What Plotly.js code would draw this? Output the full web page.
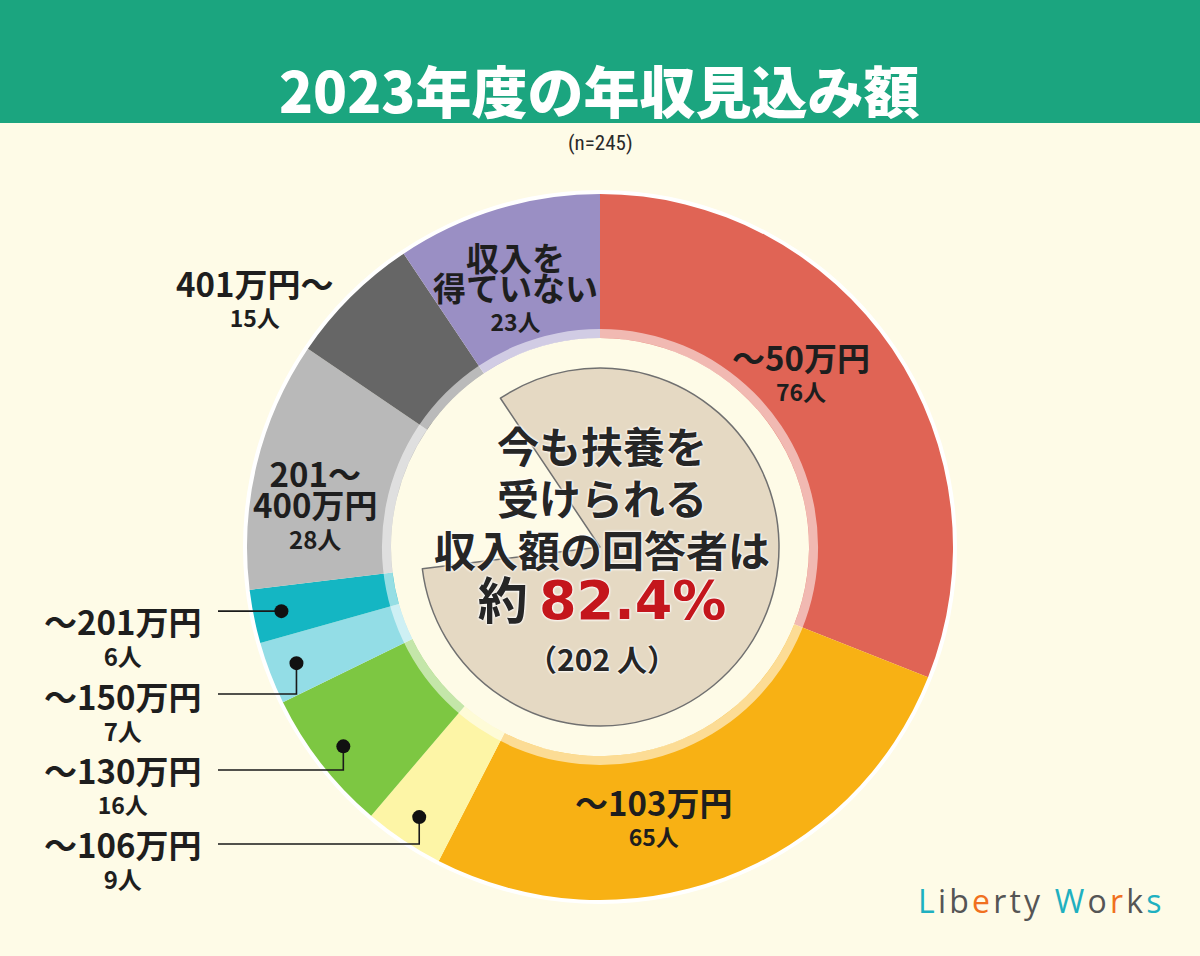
<!DOCTYPE html>
<html><head><meta charset="utf-8">
<script src="https://cdn.plot.ly/plotly-3.0.1.min.js"></script>
<style>html,body{margin:0;padding:0;background:#fefbe7;}#chart{width:1200px;height:956px;}</style>
</head><body><div id="chart"></div>
<script>
// ---------------- DATA ----------------
const titleText = '2023年度の年収見込み額';
const sampleText = '(n=245)';
const categories = ['〜50万円','〜103万円','〜106万円','〜130万円','〜150万円','〜201万円','201〜400万円','401万円〜','収入を得ていない'];
const labelLines = [['〜50万円'],['〜103万円'],['〜106万円'],['〜130万円'],['〜150万円'],['〜201万円'],['201〜','400万円'],['401万円〜'],['収入を','得ていない']];
const counts = [76, 65, 9, 16, 7, 6, 28, 15, 23];
const dependentFlags = [1, 1, 1, 1, 1, 1, 0, 0, 1];
const dependentShareText = '82.4%';
const centerLines = ['今も扶養を', '受けられる', '収入額の回答者は'];
const unit = '人';

// ---------------- STYLE / LAYOUT ----------------
const W = 1200, H = 956, CX = 600, CY = 547;
const R_RIM = 357, R_OUT = 353, R_BAND = 218, R_IN = 209, R_CORE = 179;
const sliceColors = ['#e06455','#f8b114','#fdf5a6','#7dc742','#93dde6','#14b6c3','#b9b9b9','#666666','#9a8fc4'];
const BG = '#fefbe7', GREEN = '#1ba57f', BEIGE = '#e5d9c3', TXT = '#1e1e1e', RED = '#c4161c';
const JP = '"Noto Sans CJK JP", "Noto Sans", sans-serif';
const labelX = [801, 653, 122, 122, 122, 122, 315, 254, 515];
const labelTopY = [356, 801, 842, 769, 694, 619, 471, 282, 256];
const labelBaseSize = [23, 23, 24, 23, 24, 24, 24, 23, 23];
const labelBigSize = 33;
const leaderIdx = [2, 3, 4, 5];
const leaderY = {2: 844, 3: 770, 4: 694, 5: null};
const leaderX0 = 218, dotRadius = 325, dotSize = 7;

const total = counts.reduce((a, b) => a + b, 0);
const depCount = counts.reduce((a, v, i) => a + (dependentFlags[i] ? v : 0), 0);
let startIdx = dependentFlags.findIndex((f, i) => f && !dependentFlags[(i - 1 + counts.length) % counts.length]);
const cumBefore = counts.slice(0, startIdx).reduce((a, b) => a + b, 0);
let coreRotation = cumBefore / total * 360; if (coreRotation > 180) coreRotation -= 360;

function dom(r) { return {x: [(CX - r) / W, (CX + r) / W], y: [1 - (CY + r) / H, 1 - (CY - r) / H]}; }
const px = x => x / W, py = y => 1 - y / H;

const common = {type: 'pie', sort: false, direction: 'clockwise', textinfo: 'none', hoverinfo: 'skip', showlegend: false};
const traces = [
  Object.assign({}, common, {values: [1], marker: {colors: ['#ffffff'], line: {width: 0}}, hole: (R_OUT - 1) / R_RIM, domain: dom(R_RIM)}),
  Object.assign({}, common, {values: counts, labels: categories, rotation: 0, marker: {colors: sliceColors, line: {width: 0}}, hole: R_IN / R_OUT, domain: dom(R_OUT)}),
  Object.assign({}, common, {values: [1], marker: {colors: ['rgba(255,255,255,0.55)'], line: {width: 0}}, hole: R_IN / R_BAND, domain: dom(R_BAND)}),
  Object.assign({}, common, {values: [depCount, total - depCount], labels: ['a','b'], rotation: coreRotation,
    marker: {colors: [BEIGE, 'rgba(0,0,0,0)'], line: {color: ['#707070', 'rgba(0,0,0,0)'], width: 1.5}}, domain: dom(R_CORE)})
];

const shapes = [{type: 'rect', xref: 'paper', yref: 'paper', x0: 0, x1: 1, y0: py(123), y1: 1, fillcolor: GREEN, line: {width: 0}, layer: 'below'}];
const cum = []; counts.reduce((a, v, i) => { cum[i] = a; return a + v; }, 0);
leaderIdx.forEach(i => {
  const a = (cum[i] + counts[i] / 2) / total * 2 * Math.PI;
  const dx = CX + dotRadius * Math.sin(a), dy = CY - dotRadius * Math.cos(a);
  const ly = leaderY[i] == null ? dy : leaderY[i];
  shapes.push({type: 'path', xref: 'paper', yref: 'paper', layer: 'above',
    path: `M ${px(leaderX0)},${py(ly)} L ${px(dx)},${py(ly)} L ${px(dx)},${py(dy)}`, line: {color: '#1a1a1a', width: 1.6}});
  shapes.push({type: 'circle', xref: 'paper', yref: 'paper', layer: 'above',
    x0: px(dx - dotSize), x1: px(dx + dotSize), y0: py(dy + dotSize), y1: py(dy - dotSize), fillcolor: '#111111', line: {color: '#111', width: 0}});
});

const ann = [];
function A(text, x, y, size, opts) {
  ann.push(Object.assign({text, x: px(x), y: py(y), xref: 'paper', yref: 'paper', showarrow: false, xanchor: 'center', yanchor: 'middle',
    font: Object.assign({family: JP, size, color: TXT, weight: 700}, (opts && opts.font) || {})}, (opts && opts.extra) || {}));
}
A(titleText, 599, 88, 56, {font: {color: '#ffffff', weight: 900}});
A(sampleText, 600, 143, 21, {font: {family: '"Liberation Sans Narrow", "Roboto Condensed", "Liberation Sans", sans-serif', weight: 400, color: '#2a2a2a'}});

labelLines.forEach((lines, i) => {
  const b = labelBaseSize[i];
  const txt = lines.map(t => `<span style="font-size:${labelBigSize}px">${t}</span>`).join('<br>') + '<br>' + counts[i] + unit;
  const nLines = lines.length + 1;
  const centerY = labelTopY[i] + (nLines - 1) * 1.3 * b / 2;
  A(txt, labelX[i], centerY, b);
});

const halo = '0 0 3px #fff, 0 0 3px #fff, 0 0 2px #fff';
const centerText = centerLines.map(t => `<span style="font-size:42px">${t}</span>`).join('<br>') +
  `<br><span style="font-size:50px">約 </span><span style="font-size:54px;font-family:'DejaVu Sans';color:${RED}">${dependentShareText}</span>` +
  `<br><span style="font-size:30px">（${depCount} ${unit}）</span>`;
A(centerText, 602, 547, 40, {font: {shadow: halo, color: '#262626'}});

const logo = [['L','#1fb0c0'],['i','#555'],['b','#555'],['e','#f07020'],['r','#555'],['t','#555'],['y','#555'],[' ','#555'],['W','#1fb0c0'],['o','#555'],['r','#f07020'],['k','#555'],['s','#1fb0c0']]
  .map(([c, col]) => `<span style="color:${col}">${c}</span>`).join('\u200A');
A(logo, 1040, 900, 32, {font: {family: '"Open Sans", sans-serif', weight: 500}});

Plotly.newPlot('chart', traces, {
  width: W, height: H, margin: {l: 0, r: 0, t: 0, b: 0}, paper_bgcolor: BG, plot_bgcolor: BG,
  showlegend: false, shapes, annotations: ann
}, {displayModeBar: false, staticPlot: true});
</script></body></html>
